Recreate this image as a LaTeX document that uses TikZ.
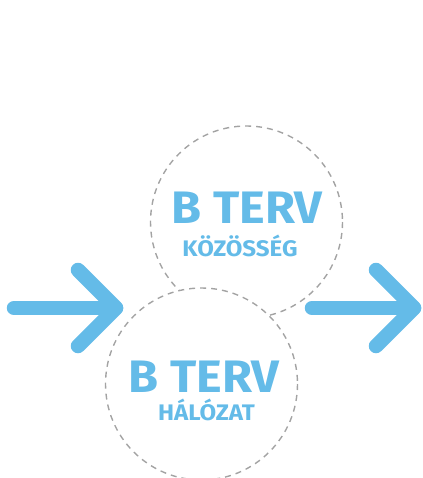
\documentclass[tikz,border=0pt]{standalone}
\usepackage{fontspec}
\newfontfamily\fira{Fira Sans}[FakeStretch=1.07]
\definecolor{skyb}{HTML}{64BBE8}
\definecolor{dashg}{HTML}{A3A3A3}
\begin{document}
\begin{tikzpicture}[x=1pt,y=-1pt,
  arrowline/.style={draw=skyb, line width=14.5pt, line cap=round, line join=round},
  ring/.style={draw=dashg, line width=1.4pt, dash pattern=on 6pt off 5pt},
  bigtxt/.style={text=skyb, font=\fira\bfseries\fontsize{45.5}{45.5}\selectfont, anchor=base, inner sep=0pt},
  subtxt/.style={text=skyb, font=\fira\bfseries\fontsize{22.5}{22.5}\selectfont, anchor=base, inner sep=0pt}]
\useasboundingbox (0,0) rectangle (422,478);
% coordinates
\coordinate (c1) at (246.5,222);
\coordinate (c2) at (201.5,384);
% lower circle (full)
\draw[ring] (c2) circle (96);
% upper circle, only outside the lower one
\begin{scope}[even odd rule]
  \clip (-10,-10) rectangle (432,488) (c2) circle (96);
  \draw[ring] (c1) circle (96);
\end{scope}
% left arrow
\coordinate (la0) at (14,308);
\coordinate (la1) at (116,308);
\coordinate (la2) at (78,270);
\coordinate (la3) at (78,346);
\draw[arrowline] (la0) -- (la1);
\draw[arrowline] (la2) -- (la1) -- (la3);
% right arrow
\coordinate (ra0) at (312,308);
\coordinate (ra1) at (414,308);
\coordinate (ra2) at (376,270);
\coordinate (ra3) at (376,346);
\draw[arrowline] (ra0) -- (ra1);
\draw[arrowline] (ra2) -- (ra1) -- (ra3);
% texts
\node[bigtxt] (t1) at (247,223) {B TERV};
\node[subtxt] (s1) at (240,256) {KÖZÖSSÉG};
\node[bigtxt] (t2) at (204,392) {B TERV};
\node[subtxt] (s2) at (206.5,420) {HÁLÓZAT};
\end{tikzpicture}
\end{document}
